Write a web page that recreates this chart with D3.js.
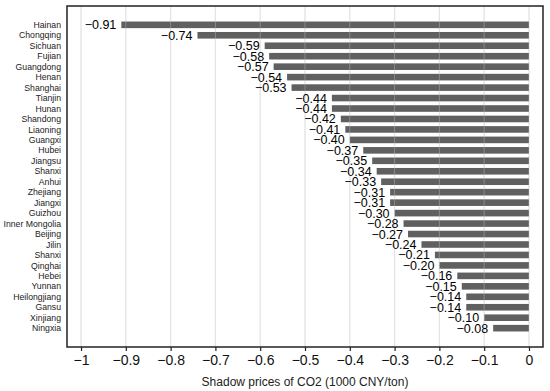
<!DOCTYPE html>
<meta charset="utf-8">
<style>
body { margin: 0; background: #fff; }
text { font-family: "Liberation Sans", Arial, sans-serif; }
.grid line { stroke: #dcdcdc; stroke-width: 1.2px; }
.bar { fill: #606060; }
</style>
<svg width="550" height="391"></svg>
<script src="https://d3js.org/d3.v7.min.js"></script>
<script>
var provinces = ["Hainan", "Chongqing", "Sichuan", "Fujian", "Guangdong", "Henan", "Shanghai",
  "Tianjin", "Hunan", "Shandong", "Liaoning", "Guangxi", "Hubei", "Jiangsu", "Shanxi", "Anhui",
  "Zhejiang", "Jiangxi", "Guizhou", "Inner Mongolia", "Beijing", "Jilin", "Shanxi", "Qinghai",
  "Hebei", "Yunnan", "Heilongjiang", "Gansu", "Xinjiang", "Ningxia"];
var prices = [-0.91, -0.74, -0.59, -0.58, -0.57, -0.54, -0.53, -0.44, -0.44, -0.42, -0.41, -0.40,
  -0.37, -0.35, -0.34, -0.33, -0.31, -0.31, -0.30, -0.28, -0.27, -0.24, -0.21, -0.20, -0.16,
  -0.15, -0.14, -0.14, -0.10, -0.08];
var xTicks = [-1, -0.9, -0.8, -0.7, -0.6, -0.5, -0.4, -0.3, -0.2, -0.1, 0];

var svg = d3.select("svg"),
    margin = {top: 6, right: 7, bottom: 44, left: 67},
    width = +svg.attr("width") - margin.left - margin.right,
    height = +svg.attr("height") - margin.top - margin.bottom,
    g = svg.append("g")
        .attr("transform", "translate(" + margin.left + "," + margin.top + ")");

var minus = function(v) { return v < 0 ? "\u2212" + Math.abs(v) : String(v); };

// -1 sits at 81, 0 at 529
var x = d3.scaleLinear()
    .domain([-1.0313, 0.0313])
    .range([0, width]);

var y = d3.scaleLinear()
    .domain([-1.8, provinces.length - 1 + 1.8])
    .range([0, height]);

// gridlines under the bars
g.append("g").attr("class", "grid")
  .selectAll("line").data(xTicks).enter().append("line")
    .attr("x1", d => x(d)).attr("x2", d => x(d))
    .attr("y1", 0).attr("y2", height);

g.selectAll(".bar").data(prices).enter().append("rect")
    .attr("class", "bar")
    .attr("x", d => x(d))
    .attr("width", d => x(0) - x(d))
    .attr("y", (d, i) => y(i) - 3.3)
    .attr("height", 6.6);

// faint gridlines over the bars
g.append("g")
  .selectAll("line").data(xTicks).enter().append("line")
    .attr("x1", d => x(d)).attr("x2", d => x(d))
    .attr("y1", 0).attr("y2", height)
    .attr("stroke", "#ffffff").attr("stroke-opacity", 0.25).attr("stroke-width", 1);

g.selectAll(".vlabel").data(prices).enter().append("text")
    .attr("class", "vlabel")
    .attr("x", d => x(d) - 5)
    .attr("y", (d, i) => y(i))
    .attr("dy", "0.36em")
    .attr("text-anchor", "end")
    .style("font-size", "12.5px")
    .text(d => "\u2212" + Math.abs(d).toFixed(2));

g.selectAll(".plabel").data(provinces).enter().append("text")
    .attr("class", "plabel")
    .attr("x", -6)
    .attr("y", (d, i) => y(i))
    .attr("dy", "0.36em")
    .attr("text-anchor", "end")
    .style("font-size", "8.7px")
    .style("fill", "#222")
    .text(d => d);

// frame
g.append("rect")
    .attr("width", width).attr("height", height)
    .attr("fill", "none").attr("stroke", "#222").attr("stroke-width", 1.5);

var xAxis = g.append("g")
    .attr("transform", "translate(0," + height + ")")
    .call(d3.axisBottom(x).tickValues(xTicks).tickSize(4).tickPadding(4).tickFormat(minus));
xAxis.select(".domain").remove();
xAxis.selectAll("line").attr("stroke", "#222").attr("stroke-width", 1.2);
xAxis.selectAll("text").style("font-size", "14px").style("font-family", "Liberation Sans, Arial, sans-serif").attr("fill", "#111");

svg.append("text")
    .attr("x", margin.left + width / 2)
    .attr("y", 386)
    .attr("text-anchor", "middle")
    .style("font-size", "12px")
    .style("fill", "#222")
    .text("Shadow prices of CO2 (1000 CNY/ton)");
</script>
